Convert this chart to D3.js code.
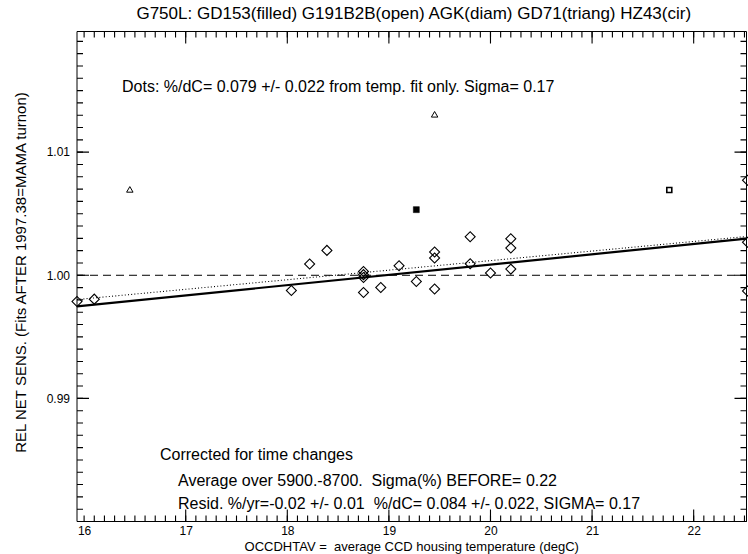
<!DOCTYPE html>
<html>
<head>
<meta charset="utf-8">
<script src="https://cdn.jsdelivr.net/npm/d3@7"></script>
<style>
  body { margin: 0; background: #fff; }
  svg { display: block; }
  svg text { font-family: "Liberation Sans", Arial, Helvetica, sans-serif; fill: #000; white-space: pre; }
  .axis path.domain { display: none; }
</style>
</head>
<body>
<svg id="chart" width="748" height="554"></svg>
<script>
// ---------- Data ----------
const X_RANGE = [15.93, 22.52];
const Y_RANGE = [0.98, 1.0198];

const X_MAJOR = [16, 17, 18, 19, 20, 21, 22];
const Y_MAJOR = [0.98, 0.99, 1.00, 1.01];

// AGK (diamonds)
const diamX = [15.93, 16.10, 18.04, 18.22, 18.39, 18.75, 18.75, 18.75, 18.75, 18.92, 19.10, 19.27,
               19.45, 19.45, 19.45, 19.80, 19.80, 20.00, 20.20, 20.20, 20.20, 22.53, 22.53, 22.53];
const diamY = [0.99787, 0.99806, 0.99876, 1.00091, 1.00202, 1.00030, 1.00005, 0.99982, 0.99860, 0.99901, 1.00077, 0.99950,
               1.00189, 1.00140, 0.99888, 1.00313, 1.00093, 1.00018, 1.00297, 1.00221, 1.00050, 1.00771, 1.00268, 0.99872];
// GD153 (filled squares)
const filledX = [19.27];
const filledY = [1.00533];
// G191B2B (open squares)
const openX = [21.76];
const openY = [1.00693];
// GD71 (triangles)
const triX = [16.45, 19.45];
const triY = [1.00690, 1.01300];

// fit lines
const fitX = [15.93, 22.52];
const fitSolidY = [0.99747, 1.00297];   // corrected for time changes
const fitDotY = [0.99803, 1.00315];     // temp. fit only (dots)
const refY = [1.00, 1.00];

const TITLE = "G750L: GD153(filled) G191B2B(open) AGK(diam) GD71(triang) HZ43(cir)";
const X_LABEL = "OCCDHTAV =  average CCD housing temperature (degC)";
const Y_LABEL = "REL NET SENS. (Fits AFTER 1997.38=MAMA turnon)";
const NOTES = [
  { text: "Dots: %/dC= 0.079 +/- 0.022 from temp. fit only. Sigma= 0.17", x: 122, y: 92 },
  { text: "Corrected for time changes", x: 160, y: 460 },
  { text: "Average over 5900.-8700.  Sigma(%) BEFORE= 0.22", x: 178, y: 486 },
  { text: "Resid. %/yr=-0.02 +/- 0.01  %/dC= 0.084 +/- 0.022, SIGMA= 0.17", x: 178, y: 509 }
];

// ---------- Setup ----------
const svg = d3.select("#chart");
const x = d3.scaleLinear().domain(X_RANGE).range([77, 746.5]);
const y = d3.scaleLinear().domain(Y_RANGE).range([521.5, 31.5]);

const [x0, x1] = x.range();
const [yb, yt] = y.range();

// frame
svg.append("path")
  .attr("d", `M${x0},${yt}H${x1}V${yb}H${x0}Z`)
  .style("fill", "none")
  .attr("stroke", "#000")
  .attr("stroke-width", 1);

// ---------- Axis labels (d3 axes) ----------
svg.append("g")
  .attr("class", "axis")
  .attr("transform", `translate(0,${yb})`)
  .call(d3.axisBottom(x).tickValues(X_MAJOR).tickSize(0).tickPadding(5).tickFormat(d3.format("d")))
  .selectAll("text").style("font-size", "12px").attr("fill", "#000");

svg.append("g")
  .attr("class", "axis")
  .attr("transform", `translate(${x0},0)`)
  .call(d3.axisLeft(y).tickValues(Y_MAJOR.filter(v => v > 0.985)).tickSize(0).tickPadding(7).tickFormat(d3.format(".2f")))
  .selectAll("text").style("font-size", "12px").attr("fill", "#000");

// ---------- Tick marks (inward, IDL style) ----------
// each row of ticks is one long stroke cut into 1px dashes, spaced by the scale step
const line = d3.line().x(d => d[0]).y(d => d[1]);
const xStep = x(16.1) - x(16);        // 0.1 degC
const yStep = y(0.98) - y(0.981);     // 0.001

function tickRow(p0, p1, len, step) {
  svg.append("path")
    .attr("d", line([p0, p1]))
    .attr("fill", "none")
    .attr("stroke", "#000")
    .attr("stroke-width", len)
    .attr("stroke-dasharray", `1.1 ${step - 1.1}`);
}
// bottom / top: minor every 0.1, major every 1 (from 17 on; 16 is drawn short)
tickRow([x(16) - 0.55, yb - 3], [x(22.5) + 0.55, yb - 3], 6, xStep);
tickRow([x(17) - 0.55, yb - 6], [x(22) + 0.55, yb - 6], 12, xStep * 10);
tickRow([x(16) - 0.55, yt + 3], [x(22.5) + 0.55, yt + 3], 6, xStep);
tickRow([x(17) - 0.55, yt + 6], [x(22) + 0.55, yt + 6], 12, xStep * 10);
// left / right: minor every 0.001, major every 0.01
tickRow([x0 + 3, y(0.98) + 0.55], [x0 + 3, y(1.019) - 0.55], 6, yStep);
tickRow([x0 + 6, y(0.98) + 0.55], [x0 + 6, y(1.01) - 0.55], 12, yStep * 10);
tickRow([x1 - 3, y(0.98) + 0.55], [x1 - 3, y(1.019) - 0.55], 6, yStep);
tickRow([x1 - 6, y(0.98) + 0.55], [x1 - 6, y(1.01) - 0.55], 12, yStep * 10);

// ---------- Lines ----------
const fitLine = d3.line().x(d => x(d[0])).y(d => y(d[1]));
function addLine(ys, width, dash) {
  svg.append("path")
    .datum(fitX.map((v, i) => [v, ys[i]]))
    .attr("d", fitLine)
    .attr("fill", "none")
    .attr("stroke", "#000")
    .attr("stroke-width", width)
    .attr("stroke-dasharray", dash || null);
}
addLine(refY, 1, "8,5");
addLine(fitDotY, 1.1, "1,2.2");
addLine(fitSolidY, 2.2);

// ---------- Points ----------
function addPoints(xs, ys, type, size, opts) {
  svg.append("g").selectAll("path")
    .data(xs.map((v, i) => [v, ys[i]]))
    .join("path")
      .attr("transform", d => `translate(${x(d[0])},${y(d[1])})${opts.rotate ? " rotate(45)" : ""}`)
      .attr("d", d3.symbol(type, size))
      .attr("fill", opts.fill || "none")
      .attr("stroke", "#000")
      .attr("stroke-width", opts.sw || 1);
}
addPoints(diamX, diamY, d3.symbolSquare, 50, { rotate: true, sw: 1.1 });
addPoints(filledX, filledY, d3.symbolSquare, 36, { fill: "#000", sw: 0.5 });
addPoints(openX, openY, d3.symbolSquare, 25, { sw: 1.6 });
addPoints(triX, triY, d3.symbolTriangle, 18, { sw: 1 });

// ---------- Texts ----------
svg.append("text")
  .attr("x", (x0 + x1) / 2 + 2).attr("y", 19)
  .attr("text-anchor", "middle")
  .style("font-size", "17px")
  .text(TITLE);

svg.append("text")
  .attr("x", (x0 + x1) / 2).attr("y", 550.5)
  .attr("text-anchor", "middle")
  .style("font-size", "13px")
  .text(X_LABEL);

svg.append("text")
  .attr("transform", `translate(25.5,${(yt + yb) / 2 - 4}) rotate(-90)`)
  .attr("text-anchor", "middle")
  .style("font-size", "15px")
  .text(Y_LABEL);

svg.append("g").selectAll("text")
  .data(NOTES)
  .join("text")
    .attr("x", d => d.x)
    .attr("y", d => d.y)
    .style("font-size", "16px")
    .text(d => d.text);
</script>
</body>
</html>
